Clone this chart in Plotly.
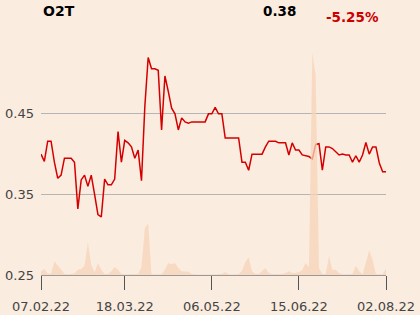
import plotly.graph_objects as go

# ---- data ----
dates = ["07.02.22", "18.03.22", "06.05.22", "15.06.22", "02.08.22"]
tick_idx = [0, 25, 51, 77, 103]

price = [0.400, 0.391, 0.416, 0.416, 0.390, 0.370, 0.374, 0.395, 0.395, 0.395,
         0.390, 0.332, 0.368, 0.374, 0.360, 0.374, 0.350, 0.325, 0.322, 0.369,
         0.362, 0.362, 0.369, 0.428, 0.390, 0.417, 0.414, 0.409, 0.395, 0.405,
         0.367, 0.459, 0.520, 0.506, 0.506, 0.504, 0.430, 0.497, 0.478, 0.457,
         0.450, 0.430, 0.445, 0.440, 0.4385, 0.440, 0.440, 0.440, 0.440, 0.440,
         0.450, 0.450, 0.458, 0.450, 0.450, 0.420, 0.420, 0.420, 0.420, 0.420,
         0.390, 0.390, 0.380, 0.400, 0.400, 0.400, 0.400, 0.409, 0.416, 0.416,
         0.416, 0.414, 0.414, 0.414, 0.399, 0.414, 0.405, 0.405, 0.399, 0.398,
         0.397, 0.394, 0.412, 0.413, 0.380, 0.409, 0.409, 0.407, 0.4025, 0.399,
         0.400, 0.399, 0.399, 0.390, 0.398, 0.390, 0.399, 0.4145, 0.400, 0.409,
         0.409, 0.389, 0.378, 0.378]

volume = [370, 600, 130, 150, 1370, 930, 530, 130, 80, 80,
          150, 530, 600, 930, 3300, 1000, 270, 1200, 530, 100,
          100, 370, 800, 530, 100, 70, 70, 70, 70, 100,
          800, 4700, 5200, 70, 50, 50, 70, 530, 1200, 1070,
          1200, 700, 370, 350, 330, 100, 50, 50, 50, 50,
          50, 50, 50, 100, 100, 300, 80, 50, 50, 100,
          400, 1300, 1770, 370, 100, 100, 400, 700, 200, 100,
          100, 100, 100, 200, 370, 200, 200, 300, 500, 1200,
          800, 22300, 20000, 700, 100, 100, 1900, 500, 530, 200,
          70, 70, 70, 100, 930, 370, 50, 1200, 2500, 1500,
          100, 70, 70, 630]

title = "O2T"
last_price = "0.38"
change = "-5.25%"

x = list(range(len(price)))

fig = go.Figure()
fig.add_trace(go.Scatter(x=x, y=volume, yaxis="y2", mode="lines",
                         line=dict(width=0, color="rgba(247,210,182,0.8)"),
                         fill="tozeroy", fillcolor="rgba(247,212,186,0.75)",
                         hoverinfo="skip"))
fig.add_trace(go.Scatter(x=x, y=price, mode="lines",
                         line=dict(color="#d40000", width=1.5)))

bg = "#fbece0"
fig.update_layout(
    width=420, height=315,
    margin=dict(l=41, r=34, t=51, b=40, autoexpand=False),
    paper_bgcolor=bg, plot_bgcolor=bg,
    showlegend=False,
    font=dict(family="DejaVu Sans", size=13, color="#444444"),
    xaxis=dict(range=[0, 103], tickmode="array", tickvals=tick_idx, ticktext=dates,
               showgrid=False, zeroline=False, automargin=False,
               showline=True, linecolor="#999999", linewidth=1,
               ticks="outside", ticklen=14, tickcolor="#555555", tickwidth=1,
               ticklabelstandoff=5, showticklabels=True,
               tickfont=dict(size=13, color="#444444")),
    yaxis=dict(range=[0.25, 0.528], tickmode="array", tickvals=[0.25, 0.35, 0.45],
               ticktext=["0.25", "0.35", "0.45"],
               showgrid=True, gridcolor="#b5b5b5", gridwidth=1,
               zeroline=False, showline=False, ticks="", automargin=False,
               ticklabelstandoff=6,
               tickfont=dict(size=13, color="#444444")),
    yaxis2=dict(range=[0, 22460], overlaying="y", side="right",
                showticklabels=False, showgrid=False, zeroline=False,
                showline=False, ticks="", automargin=False),
)

fig.add_annotation(xref="paper", yref="paper", x=0.0, y=1.179,
                   xanchor="left", yanchor="middle", showarrow=False,
                   text="<b>" + title + "</b>",
                   font=dict(size=14, color="#000000"))
fig.add_annotation(xref="paper", yref="paper", x=0.745, y=1.18,
                   xanchor="right", yanchor="middle", showarrow=False,
                   text="<b>" + last_price + "</b>",
                   font=dict(size=13.5, color="#000000"))
fig.add_annotation(xref="paper", yref="paper", x=0.82, y=1.15,
                   xanchor="left", yanchor="middle", showarrow=False,
                   text="<b>" + change + "</b>",
                   font=dict(size=13.5, color="#cc0000"))

fig.write_html("out.html")
